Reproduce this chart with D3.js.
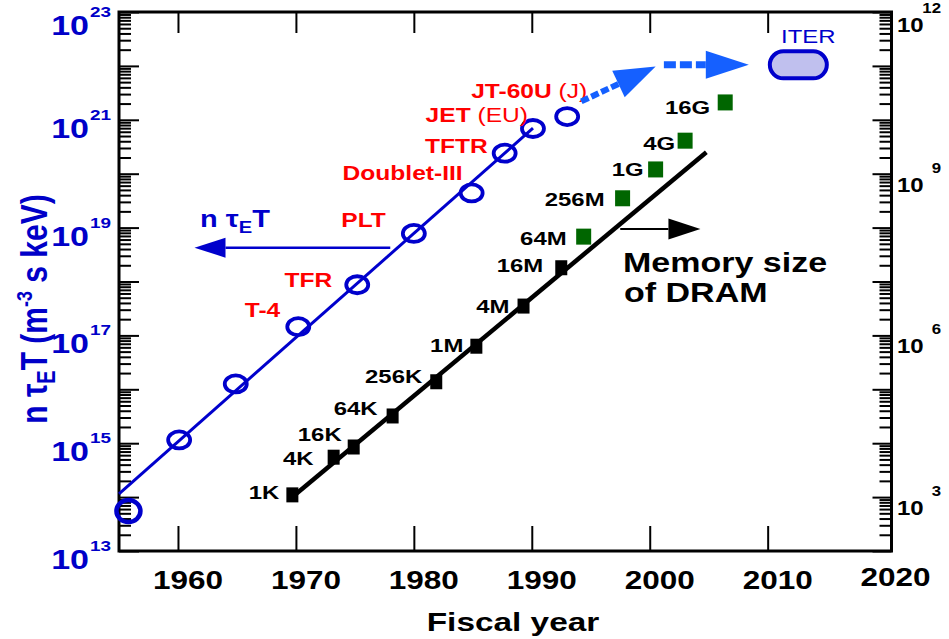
<!DOCTYPE html>
<html>
<head>
<meta charset="utf-8">
<script src="https://cdn.jsdelivr.net/npm/d3@7"></script>
<style>
  html, body { margin: 0; padding: 0; background: #fff; }
  svg { display: block; font-family: "Liberation Sans", Arial, Helvetica, sans-serif; }
</style>
</head>
<body>
<svg id="chart" width="949" height="639"></svg>
<script>
// ---- Fusion triple product n·tauE·T of tokamak experiments ----
const fusionYears  = [1955.8, 1960.1, 1964.9, 1970.2, 1975.2, 1980.0, 1984.9, 1987.7, 1990.1, 1993.0];
const fusionValues = [5.5e13, 1.15e15, 1.26e16, 1.45e17, 8.7e17, 7.8e18, 4.4e19, 2.4e20, 6.9e20, 1.15e21];
const fusionNames  = ["", "", "", "T-4", "TFR", "PLT", "Doublet-III", "TFTR", "JET", "JT-60U"];
const fusionRegion = ["", "", "", "", "", "", "", "", "(EU)", "(J)"];
const fusionTrendYears  = [1955.0, 1990.1];
const fusionTrendValues = [1.15e14, 7.0e20];

// ITER target
const iterYear = 2012.6;
const iterValue = 1.05e22;

// ---- DRAM memory size (bits) ----
const dramYears  = [1969.7, 1973.2, 1974.9, 1978.2, 1981.9, 1985.3, 1989.3, 1992.5, 1994.4, 1997.7, 2000.5, 2003.0, 2006.4];
const dramBits   = [1.1e3, 5.5e3, 8.5e3, 3.2e4, 1.38e5, 6.3e5, 3.5e6, 1.8e7, 6.8e7, 3.5e8, 1.2e9, 4.1e9, 2.1e10];
const dramLabels = ["1K", "4K", "16K", "64K", "256K", "1M", "4M", "16M", "64M", "256M", "1G", "4G", "16G"];
const dramFirstPlanned = 8;   // from 64M on the parts are plans (green)
const dramTrendYears = [1969.7, 2004.8];
const dramTrendBits  = [1.0e3, 2.5e9];

// ---- Axes ----
const yearTicks = [1960, 1970, 1980, 1990, 2000, 2010, 2020];
const leftDecades  = d3.range(13, 24);           // 10^13 .. 10^23
const leftLabelExp = [13, 15, 17, 19, 21, 23];
const rightDecades = d3.range(2, 13);            // 10^2 .. 10^12
const rightLabelExp = [3, 6, 9, 12];

// label placement (pixels: dx, dy of the label end / baseline from its mark)
const fusionLabelNudge = [null, null, null, [-18, -10], [-25, 2], [-28, -6], [-9, -13], [-17, 0], [-5, -6], [20, -19]];
const dramLabelNudge = [[-13, 4], [-20, 8], [-12, -6], [-15, -1], [-14, 1], [-13, 6], [-14, 7],
                        [-18, 4], [-17, 8], [-18, 8], [-12, 7], [-10, 9], [-15, 12]];

const BLUE = "#0000cc", AXBLUE = "#0000c8", ARROWBLUE = "#1560ff", RED = "#ff0000", GREEN = "#006600";
const SX = 1.26;

const svg = d3.select("#chart");
const L = 119, R = 891.5, T = 12, B = 551;

const x  = d3.scaleLinear().domain([1955, 2020.5]).range([L, R]);
const yL = d3.scaleLog().domain([1e13, 1e23]).range([B, T]);
const yR = d3.scaleLog().domain([1e2, 1e12]).range([B, T]);

function minorTicks(decades) {
  const out = [];
  decades.slice(0, -1).forEach(e => { for (let k = 2; k <= 9; k++) out.push(k * Math.pow(10, e)); });
  return out;
}
function addText(parent, px, py, parts, o) {
  const t = parent.append("text")
    .attr("transform", `translate(${px},${py}) scale(${o.sx || SX},1)`)
    .attr("text-anchor", o.anchor || "start")
    .attr("font-size", o.size)
    .attr("font-weight", o.weight || "bold")
    .attr("fill", o.fill || "#000");
  (typeof parts === "string" ? [{ t: parts }] : parts).forEach(p => {
    const s = t.append("tspan").text(p.t);
    if (p.dy) s.attr("dy", p.dy);
    if (p.size) s.attr("font-size", p.size);
    if (p.weight) s.attr("font-weight", p.weight);
  });
  return t;
}
function styleAxis(g) {
  g.select(".domain").remove();
  g.selectAll(".tick line").attr("stroke", "#000").attr("stroke-width", 2);
  g.selectAll(".tick text").remove();
}

// Left axis ticks (inside)
svg.append("g").attr("transform", `translate(${L},0)`)
  .call(d3.axisRight(yL).tickValues(leftDecades.map(e => Math.pow(10, e))).tickSize(20).tickFormat(""))
  .call(styleAxis);
svg.append("g").attr("transform", `translate(${L},0)`)
  .call(d3.axisRight(yL).tickValues(minorTicks(leftDecades)).tickSize(12).tickFormat(""))
  .call(styleAxis);
// Right axis ticks (inside)
svg.append("g").attr("transform", `translate(${R},0)`)
  .call(d3.axisLeft(yR).tickValues(rightDecades.map(e => Math.pow(10, e))).tickSize(19).tickFormat(""))
  .call(styleAxis);
svg.append("g").attr("transform", `translate(${R},0)`)
  .call(d3.axisLeft(yR).tickValues(minorTicks(rightDecades)).tickSize(12).tickFormat(""))
  .call(styleAxis);
// Bottom and top year ticks
svg.append("g").attr("transform", `translate(0,${B})`)
  .call(d3.axisTop(x).tickValues(yearTicks.slice(0, -1)).tickSize(25).tickFormat(""))
  .call(styleAxis);
svg.append("g").attr("transform", `translate(0,${T})`)
  .call(d3.axisBottom(x).tickValues(yearTicks.slice(0, -1)).tickSize(21).tickFormat(""))
  .call(styleAxis);

// Frame
svg.append("rect").attr("x", L).attr("y", T).attr("width", R - L).attr("height", B - T)
  .attr("fill", "none").attr("stroke", "#000").attr("stroke-width", 3);

// Year labels
yearTicks.forEach(yr => addText(svg, x(yr) + 10, yr === 2020 ? 586 : 589, String(yr), { size: 25, anchor: "middle" }));
addText(svg, 513, 631, "Fiscal year", { size: 26.5, anchor: "middle" });

// Left tick labels 10^n (kept inside the page at the top)
leftLabelExp.forEach(e => {
  const base = Math.max(yL(Math.pow(10, e)) + 18, 35);
  addText(svg, 89, base, "10", { size: 27, anchor: "end", fill: AXBLUE });
  addText(svg, 90, base - 18, String(e), { size: 15, fill: AXBLUE });
});
// Right tick labels 10^n
rightLabelExp.forEach(e => {
  const base = Math.max(yR(Math.pow(10, e)) + 18, 32);
  addText(svg, 897, base, "10", { size: 20, sx: 1.2 });
  addText(svg, 941, base - 19, String(e), { size: 14, anchor: "end", sx: 1.2 });
});

// Left axis title
svg.append("text")
  .attr("transform", `translate(47,309) scale(${SX},1) rotate(-90)`)
  .attr("text-anchor", "middle").attr("font-size", 30).attr("font-weight", "bold").attr("fill", AXBLUE)
  .call(t => {
    t.append("tspan").text("n \u03C4");
    t.append("tspan").attr("font-size", 20).attr("dy", 6).text("E");
    t.append("tspan").attr("dy", -6).text("T (m");
    t.append("tspan").attr("font-size", 18).attr("dy", -12).text("-3");
    t.append("tspan").attr("dy", 12).text(" s keV)");
  });

// ---- Arrow helper ----
function arrowHead(parent, tip, from, len, half, fill) {
  const dx = tip[0] - from[0], dy = tip[1] - from[1];
  const d = Math.hypot(dx, dy), ux = dx / d, uy = dy / d;
  const bx = tip[0] - ux * len, by = tip[1] - uy * len;
  parent.append("path")
    .attr("d", `M${tip[0]},${tip[1]}L${bx - uy * half},${by + ux * half}L${bx + uy * half},${by - ux * half}Z`)
    .attr("fill", fill);
  return [bx, by];
}

// Fusion trend line
svg.append("path")
  .attr("d", d3.line()(fusionTrendYears.map((yr, i) => [x(yr), yL(fusionTrendValues[i])])))
  .attr("stroke", BLUE).attr("stroke-width", 3).attr("fill", "none");

// n tauE T pointer to the left axis
{
  const y0 = yL(4.25e18);
  const from = [x(1978.0), y0], tip = [x(1961.4), y0];
  const base = arrowHead(svg, tip, from, 31, 10, BLUE);
  svg.append("line").attr("x1", from[0]).attr("y1", y0).attr("x2", base[0]).attr("y2", y0)
    .attr("stroke", BLUE).attr("stroke-width", 2.5);
  addText(svg, 200, 227, [{ t: "n \u03C4" }, { t: "E", size: 16, dy: 6 }, { t: "T", dy: -6 }], { size: 23, fill: BLUE });
}

// Fusion circles
svg.append("g").selectAll("ellipse").data(fusionYears).join("ellipse")
  .attr("cx", (d) => x(d)).attr("cy", (d, i) => yL(fusionValues[i]))
  .attr("rx", (d, i) => i === 0 ? 12 : 11).attr("ry", (d, i) => i === 0 ? 11 : 8.5)
  .attr("fill", "none").attr("stroke", BLUE).attr("stroke-width", (d, i) => i === 0 ? 4.5 : 3.8);

// Device labels
fusionNames.forEach((name, i) => {
  if (!name) return;
  const [dx, dy] = fusionLabelNudge[i];
  const parts = [{ t: name }];
  if (fusionRegion[i]) parts.push({ t: " " + fusionRegion[i], weight: "normal" });
  addText(svg, x(fusionYears[i]) + dx, yL(fusionValues[i]) + dy, parts, { size: 19.5, anchor: "end", fill: RED });
});

// Projection arrows towards ITER
{
  const from1 = [x(1994.2), yL(2.2e21)], tip1 = [x(2000.5), yL(9.7e21)];
  const b1 = arrowHead(svg, tip1, from1, 41, 14.7, ARROWBLUE);
  svg.append("line").attr("x1", from1[0]).attr("y1", from1[1]).attr("x2", b1[0]).attr("y2", b1[1])
    .attr("stroke", ARROWBLUE).attr("stroke-width", 6).attr("stroke-dasharray", "8,3");
  const from2 = [x(2001.2), yL(1.05e22)], tip2 = [x(2008.4), yL(1.05e22)];
  const b2 = arrowHead(svg, tip2, from2, 43, 14, ARROWBLUE);
  svg.append("line").attr("x1", from2[0]).attr("y1", from2[1]).attr("x2", b2[0]).attr("y2", b2[1])
    .attr("stroke", ARROWBLUE).attr("stroke-width", 7).attr("stroke-dasharray", "12,4");
}

// ITER
svg.append("rect")
  .attr("x", x(iterYear) - 28.5).attr("y", yL(iterValue) - 13.5)
  .attr("width", 57).attr("height", 27).attr("rx", 13.5)
  .attr("fill", "#c0c0ee").attr("stroke", BLUE).attr("stroke-width", 4);
addText(svg, x(iterYear) + 10, yL(iterValue) - 22, "ITER", { size: 19, anchor: "middle", weight: "normal", fill: BLUE });

// DRAM trend line
svg.append("path")
  .attr("d", d3.line()(dramTrendYears.map((yr, i) => [x(yr), yR(dramTrendBits[i])])))
  .attr("stroke", "#000").attr("stroke-width", 4.5).attr("fill", "none");

// DRAM squares
svg.append("g").selectAll("rect").data(dramYears).join("rect")
  .attr("x", (d, i) => x(d) - (i >= dramFirstPlanned ? 7.5 : 6))
  .attr("y", (d, i) => yR(dramBits[i]) - (i >= dramFirstPlanned ? 8 : 7.5))
  .attr("width", (d, i) => i >= dramFirstPlanned ? 15 : 12)
  .attr("height", (d, i) => i >= dramFirstPlanned ? 16 : 15)
  .attr("fill", (d, i) => i >= dramFirstPlanned ? GREEN : "#000");

dramLabels.forEach((lab, i) => {
  const [dx, dy] = dramLabelNudge[i];
  addText(svg, x(dramYears[i]) + dx, yR(dramBits[i]) + dy, lab, { size: 19, anchor: "end" });
});

// Memory size pointer to the right axis
{
  const y0 = yR(9.4e7);
  const from = [x(1997.5), y0], tip = [x(2004.3), y0];
  const base = arrowHead(svg, tip, from, 32, 10.5, "#000");
  svg.append("line").attr("x1", from[0]).attr("y1", y0).attr("x2", base[0]).attr("y2", y0)
    .attr("stroke", "#000").attr("stroke-width", 2);
  addText(svg, 623, 272, "Memory size", { size: 27 });
  addText(svg, 624, 302, "of DRAM", { size: 27 });
}
</script>
</body>
</html>
